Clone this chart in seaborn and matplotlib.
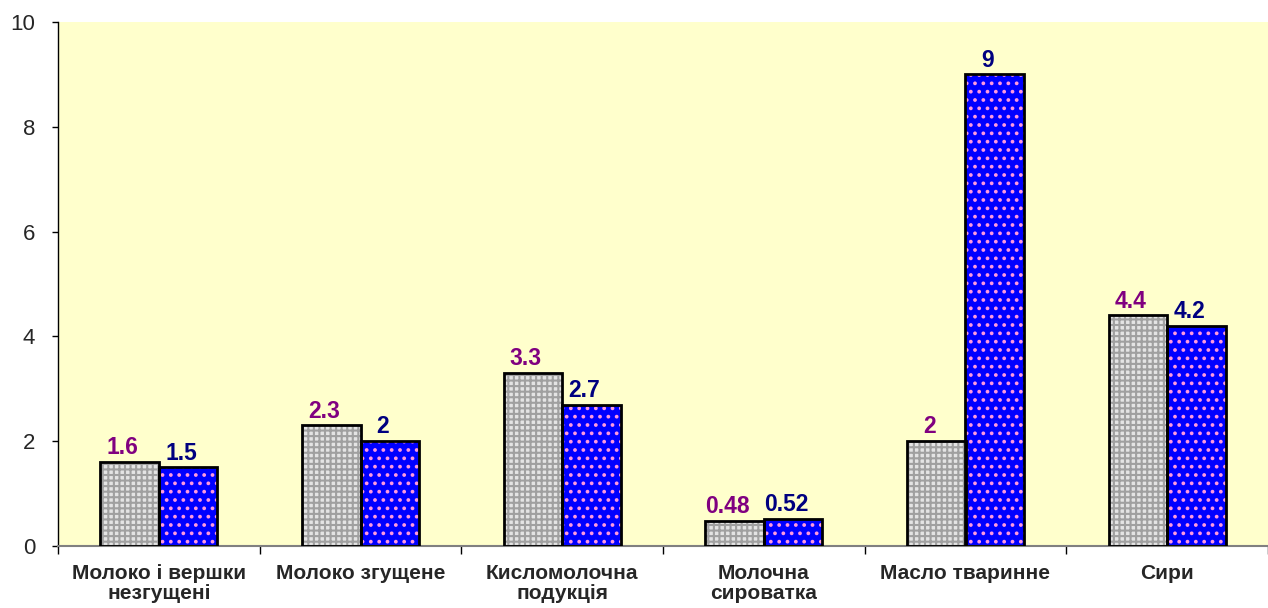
import pandas as pd
import seaborn as sns
import matplotlib.pyplot as plt
from matplotlib.patches import Rectangle
from matplotlib.ticker import FixedLocator

categories = ["Молоко і вершки\nнезгущені", "Молоко згущене", "Кисломолочна\nподукція",
              "Молочна\nсироватка", "Масло тваринне", "Сири"]
series_names = ["A", "B"]
values_a = [1.6, 2.3, 3.3, 0.48, 2, 4.4]
values_b = [1.5, 2, 2.7, 0.52, 9, 4.2]

df = pd.DataFrame({
    "cat": categories * 2,
    "val": values_a + values_b,
    "series": [series_names[0]] * 6 + [series_names[1]] * 6,
})

sns.set_theme(style="white")
plt.rcParams['font.family'] = ['Liberation Sans', 'DejaVu Sans']
plt.rcParams['hatch.linewidth'] = 1.5

fig = plt.figure(figsize=(12.68, 6.08), dpi=100)
ax = fig.add_axes([58 / 1268, 62 / 608, 1 - 58 / 1268, 524 / 608])
ax.set_facecolor("#ffffcc")

face_cols = ["#e4e4e4", "#0000ff"]
hatch_cols = ["#a0a0a0", "#ff99dd"]
hatches = ["+++", ".."]
label_cols = ["#800080", "#000080"]

sns.barplot(data=df, x="cat", y="val", hue="series", palette=face_cols,
            width=0.58, gap=0, legend=False, ax=ax, saturation=1)

for i, cont in enumerate(ax.containers):
    for bar in cont:
        bar.set_hatch(hatches[i])
        bar.set_edgecolor(hatch_cols[i])
        bar.set_linewidth(0)
        ax.add_patch(Rectangle(bar.get_xy(), bar.get_width(), bar.get_height(),
                               fill=False, edgecolor="black", linewidth=2, zorder=3))
    anns = ax.bar_label(cont, fmt="%g", color=label_cols[i], fontsize=16.5,
                        fontweight="bold", padding=2)
    for ann in anns:
        ann.xyann = (-5, ann.xyann[1])

ax.set_ylim(0, 10)
ax.set_xlim(-0.5, 5.5)
ax.set_yticks([0, 2, 4, 6, 8, 10])
ax.tick_params(axis="y", labelsize=16, left=True, length=4.5, width=1, color="black", pad=12)
ax.tick_params(axis="x", which="major", length=0, labelsize=15, pad=13)
ax.xaxis.set_minor_locator(FixedLocator([k - 0.5 for k in range(7)]))
ax.tick_params(axis="x", which="minor", bottom=True, length=6, width=1, color="black")
for lbl in ax.get_xticklabels():
    lbl.set_fontweight("bold")
    lbl.set_linespacing(1.05)

ax.set_xlabel("")
ax.set_ylabel("")
for s in ["top", "right"]:
    ax.spines[s].set_visible(False)
ax.spines["left"].set_color("black")
ax.spines["left"].set_linewidth(1)
ax.spines["bottom"].set_color("#808080")
ax.spines["bottom"].set_linewidth(1.5)

fig.savefig("out.png", dpi=100)
